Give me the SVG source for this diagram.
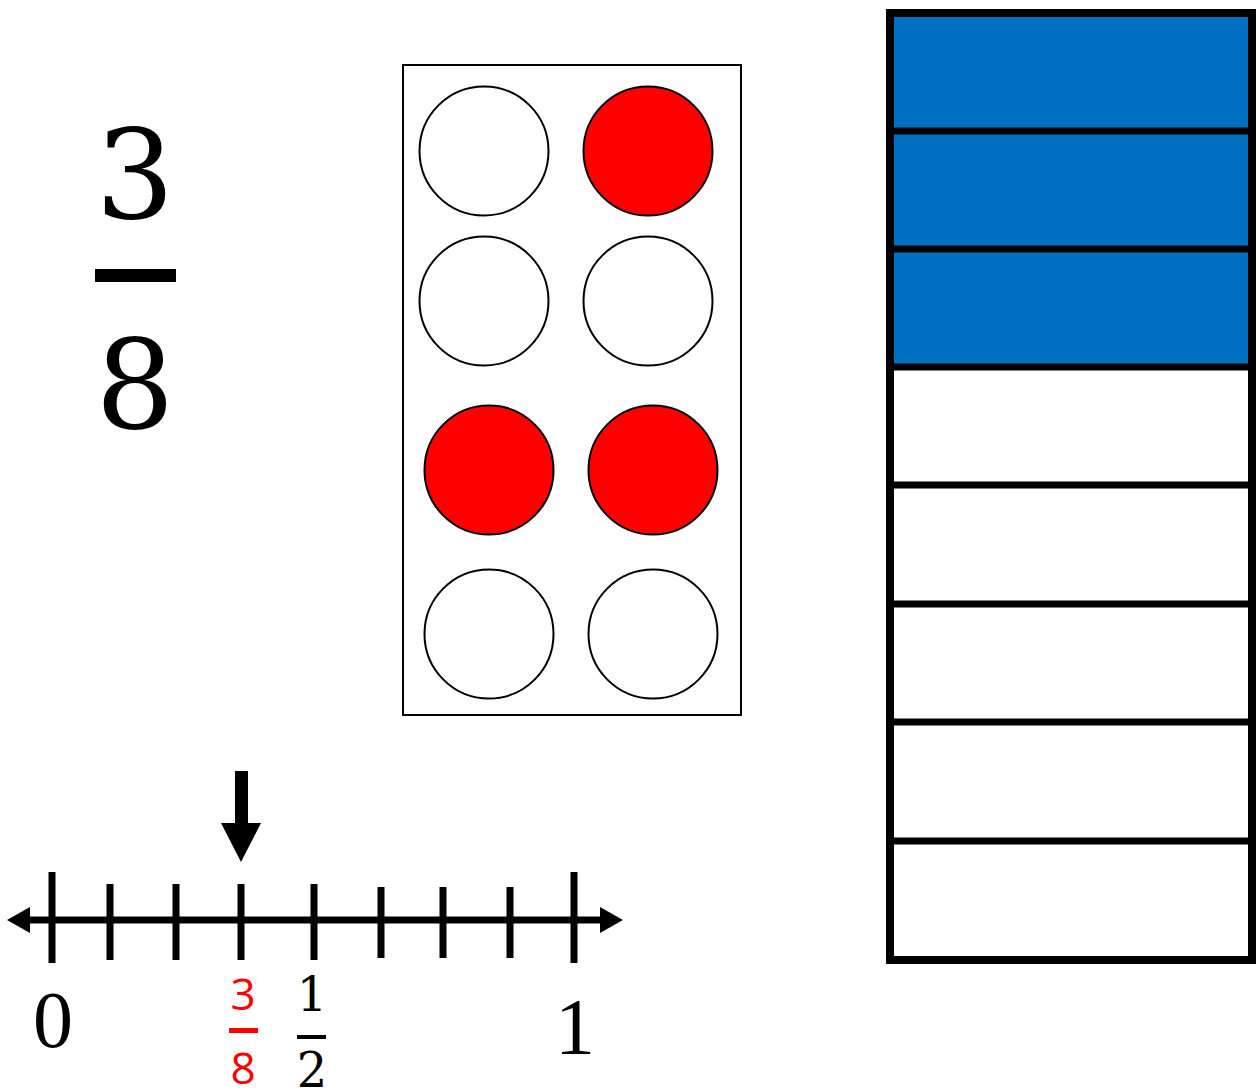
<svg xmlns="http://www.w3.org/2000/svg" width="1259" height="1091" viewBox="0 0 1259 1091">
<style>
.serif{font-family:"Liberation Serif","Times New Roman",serif;fill:#000}
.dserif{font-family:"DejaVu Serif","Liberation Serif",serif;fill:#000}
.sans{font-family:"Open Sans","DejaVu Sans",sans-serif;fill:#f00}
.dot{stroke:#000;stroke-width:2}
.empty{fill:#fff}
.red{fill:#f00}
.tick{stroke:#000;stroke-width:7}
.cell{stroke:#000;stroke-width:7}
</style>
<rect width="1259" height="1091" fill="#fff"/>
<g id="fraction">
<text class="dserif" x="135" y="218" font-size="124" text-anchor="middle">3</text>
<rect x="95" y="269" width="81" height="13" fill="#000"/>
<text class="dserif" x="135" y="428" font-size="124" text-anchor="middle">8</text>
</g>
<g id="dot-frame">
<rect x="403" y="65" width="338" height="650" fill="#fff" stroke="#000" stroke-width="2"/>
<circle class="dot empty" cx="484" cy="151" r="64.5"/>
<circle class="dot red" cx="648" cy="151" r="64.5"/>
<circle class="dot empty" cx="484" cy="301" r="64.5"/>
<circle class="dot empty" cx="648" cy="301" r="64.5"/>
<circle class="dot red" cx="489" cy="470" r="64.5"/>
<circle class="dot red" cx="653" cy="470" r="64.5"/>
<circle class="dot empty" cx="489" cy="634" r="64.5"/>
<circle class="dot empty" cx="653" cy="634" r="64.5"/>
</g>
<g id="bar">
<rect x="890" y="13" width="362" height="118" fill="#0070c0"/>
<rect x="890" y="131" width="362" height="118" fill="#0070c0"/>
<rect x="890" y="249" width="362" height="118" fill="#0070c0"/>
<rect x="890" y="367" width="362" height="118" fill="#fff"/>
<rect x="890" y="485" width="362" height="119" fill="#fff"/>
<rect x="890" y="604" width="362" height="118" fill="#fff"/>
<rect x="890" y="722" width="362" height="119" fill="#fff"/>
<rect x="890" y="841" width="362" height="119" fill="#fff"/>
<g class="cell" fill="none">
<line x1="890" y1="131" x2="1252" y2="131"/>
<line x1="890" y1="249" x2="1252" y2="249"/>
<line x1="890" y1="367" x2="1252" y2="367"/>
<line x1="890" y1="485" x2="1252" y2="485"/>
<line x1="890" y1="604" x2="1252" y2="604"/>
<line x1="890" y1="722" x2="1252" y2="722"/>
<line x1="890" y1="841" x2="1252" y2="841"/>
</g>
<rect x="890" y="13" width="362" height="947" fill="none" stroke="#000" stroke-width="8"/>
</g>
<g id="number-line">
<line x1="22" y1="920" x2="608" y2="920" stroke="#000" stroke-width="7"/>
<polygon points="7,920 30,907 30,933" fill="#000"/>
<polygon points="623,920 600,907 600,933" fill="#000"/>
<line class="tick" x1="52" y1="872" x2="52" y2="963"/>
<line class="tick" x1="110" y1="884" x2="110" y2="960"/>
<line class="tick" x1="176" y1="884" x2="176" y2="960"/>
<line class="tick" x1="241" y1="884" x2="241" y2="960"/>
<line class="tick" x1="314" y1="884" x2="314" y2="960"/>
<line class="tick" x1="381" y1="887" x2="381" y2="958"/>
<line class="tick" x1="443" y1="887" x2="443" y2="958"/>
<line class="tick" x1="510" y1="887" x2="510" y2="958"/>
<line class="tick" x1="574" y1="872" x2="574" y2="963"/>
<text class="serif" x="53" y="1047" font-size="80" text-anchor="middle">0</text>
<text class="serif" x="575" y="1054" font-size="80" text-anchor="middle">1</text>
<text class="sans" x="243" y="1010" font-size="44" text-anchor="middle">3</text>
<rect x="229" y="1028" width="29" height="5" fill="#f00"/>
<text class="sans" x="243" y="1084" font-size="44" text-anchor="middle">8</text>
<text class="dserif" x="312" y="1011" font-size="48" text-anchor="middle">1</text>
<rect x="297" y="1035" width="29" height="4" fill="#000"/>
<text class="dserif" x="312" y="1087" font-size="48" text-anchor="middle">2</text>
</g>
<g id="pointer">
<rect x="235" y="771" width="13" height="54" fill="#000"/>
<polygon points="221,823 261,823 241,862" fill="#000"/>
</g>
</svg>
